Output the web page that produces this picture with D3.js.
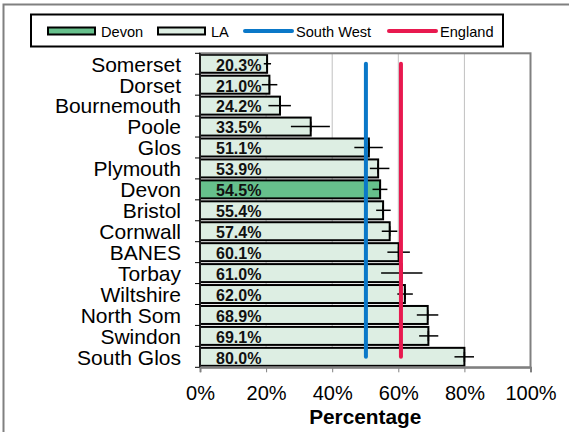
<!DOCTYPE html>
<html>
<head>
<meta charset="utf-8">
<script src="https://cdn.jsdelivr.net/npm/d3@7"></script>
<style>
body{margin:0;background:#fff;}
svg text{font-family:"Liberation Sans",Arial,sans-serif;}
</style>
</head>
<body>
<svg id="chart" width="569" height="432"></svg>
<script>
// areas, top to bottom
var areas=["Somerset","Dorset","Bournemouth","Poole","Glos","Plymouth","Devon","Bristol","Cornwall","BANES","Torbay","Wiltshire","North Som","Swindon","South Glos"];
var pct=[20.3,21.0,24.2,33.5,51.1,53.9,54.5,55.4,57.4,60.1,61.0,62.0,68.9,69.1,80.0];
var ciLow=[19.3,18.7,20.7,27.5,46.7,51.4,52.2,53.3,55.0,56.7,54.8,59.7,65.6,66.3,77.0];
var ciHigh=[21.5,23.4,27.5,39.3,55.3,57.3,56.7,57.7,59.7,63.5,67.3,64.4,72.1,72.1,82.9];
var southWest=50.2; // regional average
var england=60.8;   // national average
var xTicks=[0,20,40,60,80,100];

var svg=d3.select("#chart");
var L=200,R=530.5,T=53.3,B=367.3;

// outer frame
svg.append("rect").attr("x",3.5).attr("y",4.5).attr("width",600).attr("height",500)
	.attr("fill","none").attr("stroke","#808080").attr("stroke-width",2);

var x=d3.scaleLinear().domain([0,100]).range([L,R]);
var y=d3.scaleBand().domain(areas).range([T,B]).paddingInner(0.14).paddingOuter(0.07);
var yb=d3.scaleBand().domain(areas).range([T,B]); // full bands for ticks / lines

// gridlines
svg.append("g").selectAll("line").data(xTicks.slice(1,5)).enter().append("line")
	.attr("x1",function(d){return x(d);}).attr("x2",function(d){return x(d);})
	.attr("y1",T).attr("y2",B).attr("stroke","#c0c0c0").attr("stroke-width",1);

// bars
svg.append("g").selectAll("rect").data(areas).enter().append("rect")
	.attr("x",x(0)).attr("y",function(d){return y(d);})
	.attr("width",function(d,i){return x(pct[i])-x(0);})
	.attr("height",y.bandwidth())
	.attr("fill",function(d){return d=="Devon"?"#66c08c":"#ddeee3";})
	.attr("stroke","#000").attr("stroke-width",2);

// error bars
var eb=svg.append("g");
areas.forEach(function(a,i){
	var cy=yb(a)+yb.bandwidth()/2;
	eb.append("line").attr("x1",x(ciLow[i])).attr("x2",x(ciHigh[i])).attr("y1",cy).attr("y2",cy)
		.attr("stroke","#000").attr("stroke-width",1.5);
	eb.append("line").attr("x1",x(pct[i])).attr("x2",x(pct[i])).attr("y1",cy-5).attr("y2",cy+5)
		.attr("stroke","#000").attr("stroke-width",1.5);
});

// value labels
svg.append("g").selectAll("text").data(areas).enter().append("text")
	.attr("x",x(0)+16).attr("y",function(d){return yb(d)+yb.bandwidth()/2+6.8;})
	.attr("font-size",16).attr("font-weight","bold").attr("fill","#111")
	.text(function(d,i){return pct[i].toFixed(1)+"%";});

// average lines
var yTop=yb(areas[0])+yb.bandwidth()/2, yBot=yb(areas[areas.length-1])+yb.bandwidth()/2;
[[southWest,"#0a78c8"],[england,"#e8194f"]].forEach(function(p){
	svg.append("line").attr("x1",x(p[0])).attr("x2",x(p[0])).attr("y1",yTop).attr("y2",yBot)
		.attr("stroke",p[1]).attr("stroke-width",4).attr("stroke-linecap","round");
});

// plot frame
svg.append("rect").attr("x",L).attr("y",T).attr("width",R-L).attr("height",B-T)
	.attr("fill","none").attr("stroke","#808080").attr("stroke-width",2);

// y axis
var yAxis=svg.append("g").attr("transform","translate("+L+",0)");
yAxis.append("line").attr("x1",0).attr("x2",0).attr("y1",T).attr("y2",B).attr("stroke","#000").attr("stroke-width",1.5);
yAxis.selectAll("line.tk").data(areas.concat(["_end"])).enter().append("line").attr("class","tk")
	.attr("x1",-5).attr("x2",0)
	.attr("y1",function(d,i){return T+i*yb.step();}).attr("y2",function(d,i){return T+i*yb.step();})
	.attr("stroke","#000");
yAxis.selectAll("text").data(areas).enter().append("text")
	.attr("x",-19).attr("y",function(d){return yb(d)+yb.bandwidth()/2+7.8;})
	.attr("text-anchor","end").attr("font-size",21).attr("fill","#000").text(function(d){return d;});

// x axis
var xAxis=svg.append("g").attr("transform","translate(0,"+B+")")
	.call(d3.axisBottom(x).tickValues(xTicks).tickSize(5).tickFormat(function(d){return d+"%";}));
xAxis.select(".domain").attr("stroke","#808080").attr("stroke-width",2);
xAxis.selectAll(".tick line").attr("stroke","#808080");
xAxis.selectAll(".tick text").attr("font-size",20).attr("fill","#000").attr("dy",0).attr("y",32.3)
	.style("font-family","'Liberation Sans',Arial,sans-serif");

svg.append("text").attr("x",(L+R)/2).attr("y",424).attr("text-anchor","middle")
	.attr("font-size",20.8).attr("font-weight","bold").text("Percentage");

// legend
var lg=svg.append("g");
lg.append("rect").attr("x",31).attr("y",14.5).attr("width",472).attr("height",32)
	.attr("fill","#fff").attr("stroke","#000").attr("stroke-width",2);
var legItems=[["Devon","bar","#66c08c",48],["LA","bar","#ddeee3",158],["South West","line","#0a78c8",243],["England","line","#e8194f",387]];
legItems.forEach(function(it){
	if(it[1]=="bar"){
		lg.append("rect").attr("x",it[3]).attr("y",27.5).attr("width",47).attr("height",7)
			.attr("fill",it[2]).attr("stroke","#000").attr("stroke-width",2);
	}else{
		lg.append("line").attr("x1",it[3]+2).attr("x2",it[3]+49).attr("y1",31).attr("y2",31)
			.attr("stroke",it[2]).attr("stroke-width",4).attr("stroke-linecap","round");
	}
	lg.append("text").attr("x",it[3]+53).attr("y",36.5).attr("font-size",14.6).text(it[0]);
});
</script>
</body>
</html>
